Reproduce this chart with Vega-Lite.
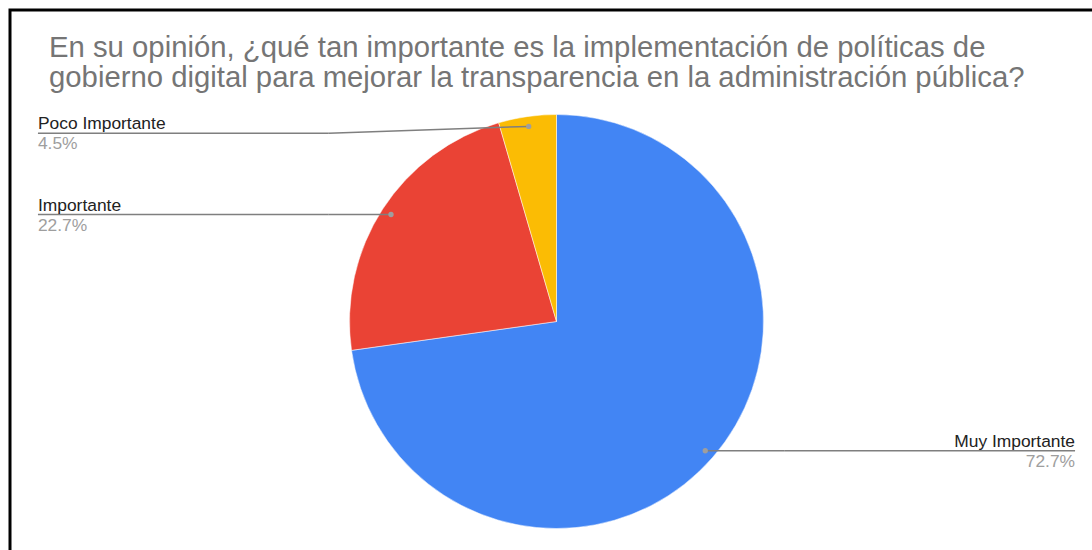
{
  "$schema": "https://vega.github.io/schema/vega-lite/v6.json",
  "width": 1093,
  "height": 623,
  "autosize": {"type": "none"},
  "padding": {"left": 10, "top": 10, "right": 0, "bottom": 0},
  "background": "#ffffff",
  "config": {
    "view": {"stroke": "#000000", "strokeWidth": 3},
    "font": "Liberation Sans"
  },
  "title": {
    "text": [
      "En su opinión, ¿qué tan importante es la implementación de políticas de",
      "gobierno digital para mejorar la transparencia en la administración pública?"
    ],
    "anchor": "start",
    "frame": "group",
    "orient": "top",
    "offset": 0,
    "dx": 39,
    "dy": 106,
    "baseline": "alphabetic",
    "fontSize": 29.3,
    "fontWeight": "normal",
    "color": "#757575",
    "font": "Liberation Sans",
    "lineHeight": 30
  },
  "data": {
    "values": [
      {"respuesta": "Muy Importante", "porcentaje": 72.7},
      {"respuesta": "Importante", "porcentaje": 22.7},
      {"respuesta": "Poco Importante", "porcentaje": 4.5}
    ]
  },
  "layer": [
    {
      "mark": {"type": "arc", "outerRadius": 207, "stroke": "#ffffff", "strokeWidth": 0.5},
      "encoding": {
        "theta": {"field": "porcentaje", "type": "quantitative", "stack": true},
        "color": {
          "field": "respuesta",
          "type": "nominal",
          "scale": {
            "domain": ["Muy Importante", "Importante", "Poco Importante"],
            "range": ["#4285F4", "#EA4335", "#FBBC04"]
          },
          "legend": null
        },
        "order": {"field": "porcentaje", "type": "quantitative", "sort": "descending"}
      }
    },
    {
      "transform": [
        {"stack": "porcentaje", "groupby": [], "sort": [{"field": "porcentaje", "order": "descending"}], "offset": "normalize", "as": ["f0", "f1"]},
        {"calculate": "PI * (datum.f0 + datum.f1)", "as": "ang"},
        {"calculate": "0.952 * sin(datum.ang)", "as": "px"},
        {"calculate": "0.952 * cos(datum.ang)", "as": "py"},
        {"calculate": "datum.px < 0 ? -2.505 : 2.505", "as": "lx"},
        {"calculate": "datum.px < 0 ? -1.1 : 1.1", "as": "bx"},
        {"calculate": "min(datum.py, 0.91)", "as": "ly"},
        {"calculate": "datum.porcentaje / 100", "as": "frac"}
      ],
      "layer": [
        {
          "mark": {"type": "rule", "color": "#7f7f7f", "strokeWidth": 1.5},
          "encoding": {
            "x": {"field": "lx", "type": "quantitative", "scale": {"domain": [-2.64, 2.64], "zero": false, "nice": false}, "axis": null},
            "x2": {"field": "bx"},
            "y": {"field": "ly", "type": "quantitative", "scale": {"domain": [-1.5048, 1.5048], "zero": false, "nice": false}, "axis": null},
            "y2": {"field": "ly"}
          }
        },
        {
          "mark": {"type": "rule", "color": "#7f7f7f", "strokeWidth": 1.5},
          "encoding": {
            "x": {"field": "bx", "type": "quantitative", "axis": null},
            "x2": {"field": "px"},
            "y": {"field": "ly", "type": "quantitative", "axis": null},
            "y2": {"field": "py"}
          }
        },
        {
          "mark": {"type": "point", "filled": true, "size": 28, "color": "#9e9e9e", "opacity": 1},
          "encoding": {
            "x": {"field": "px", "type": "quantitative", "axis": null},
            "y": {"field": "py", "type": "quantitative", "axis": null}
          }
        },
        {
          "transform": [{"filter": "datum.px < 0"}],
          "mark": {"type": "text", "align": "left", "baseline": "alphabetic", "dy": -4, "fontSize": 17.4, "color": "#222222", "font": "Liberation Sans"},
          "encoding": {
            "x": {"field": "lx", "type": "quantitative", "axis": null},
            "y": {"field": "ly", "type": "quantitative", "axis": null},
            "text": {"field": "respuesta", "type": "nominal"}
          }
        },
        {
          "transform": [{"filter": "datum.px < 0"}],
          "mark": {"type": "text", "align": "left", "baseline": "alphabetic", "dy": 16, "fontSize": 17.4, "color": "#9e9e9e", "font": "Liberation Sans"},
          "encoding": {
            "x": {"field": "lx", "type": "quantitative", "axis": null},
            "y": {"field": "ly", "type": "quantitative", "axis": null},
            "text": {"field": "frac", "type": "quantitative", "format": ".1%"}
          }
        },
        {
          "transform": [{"filter": "datum.px >= 0"}],
          "mark": {"type": "text", "align": "right", "baseline": "alphabetic", "dy": -4, "fontSize": 17.4, "color": "#222222", "font": "Liberation Sans"},
          "encoding": {
            "x": {"field": "lx", "type": "quantitative", "axis": null},
            "y": {"field": "ly", "type": "quantitative", "axis": null},
            "text": {"field": "respuesta", "type": "nominal"}
          }
        },
        {
          "transform": [{"filter": "datum.px >= 0"}],
          "mark": {"type": "text", "align": "right", "baseline": "alphabetic", "dy": 16, "fontSize": 17.4, "color": "#9e9e9e", "font": "Liberation Sans"},
          "encoding": {
            "x": {"field": "lx", "type": "quantitative", "axis": null},
            "y": {"field": "ly", "type": "quantitative", "axis": null},
            "text": {"field": "frac", "type": "quantitative", "format": ".1%"}
          }
        }
      ]
    }
  ]
}
